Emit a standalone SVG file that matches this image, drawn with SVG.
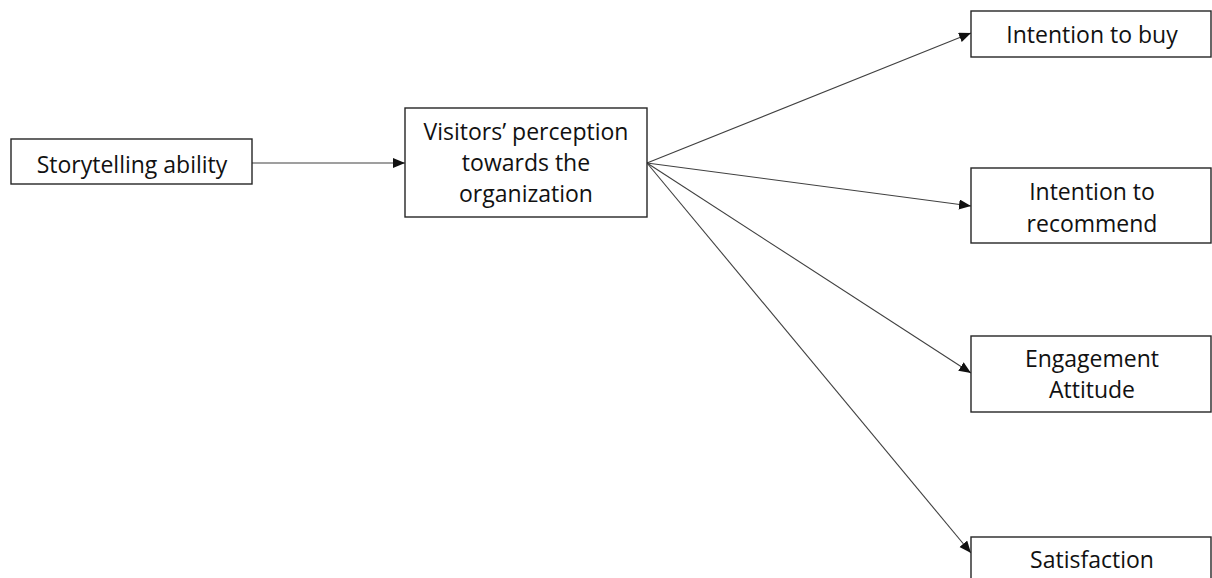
<svg xmlns="http://www.w3.org/2000/svg" width="1212" height="578" viewBox="0 0 1212 578">
  <style>
    .box { fill: #ffffff; stroke: #262626; stroke-width: 1.4; }
    .lbl { font-family: "Open Sans", "Liberation Sans", sans-serif; font-size: 23px; fill: #111111; text-anchor: middle; }
    .edge { stroke: #404040; stroke-width: 1.1; fill: none; marker-end: url(#arrow); }
  </style>
  <defs>
    <marker id="arrow" markerUnits="userSpaceOnUse" markerWidth="13" markerHeight="11" refX="12" refY="5" orient="auto">
      <path d="M0,0 L12,5 L0,10 Z" fill="#111111"/>
    </marker>
  </defs>
  <rect width="1212" height="578" fill="#ffffff"/>

  <g id="connectors">
    <line class="edge" x1="252" y1="163" x2="405" y2="163"/>
    <line class="edge" x1="647" y1="163" x2="971" y2="33"/>
    <line class="edge" x1="647" y1="163" x2="971" y2="206"/>
    <line class="edge" x1="647" y1="163" x2="971" y2="373"/>
    <line class="edge" x1="647" y1="163" x2="971" y2="553"/>
  </g>

  <g id="storytelling">
    <rect class="box" x="11" y="139" width="241" height="45"/>
    <text class="lbl" x="132" y="173">Storytelling ability</text>
  </g>

  <g id="perception">
    <rect class="box" x="405" y="108" width="242" height="109"/>
    <text class="lbl" x="526" y="140">Visitors’ perception</text>
    <text class="lbl" x="526" y="171">towards the</text>
    <text class="lbl" x="526" y="202">organization</text>
  </g>

  <g id="buy">
    <rect class="box" x="971" y="11" width="240" height="46"/>
    <text class="lbl" x="1092" y="43">Intention to buy</text>
  </g>

  <g id="recommend">
    <rect class="box" x="971" y="168" width="240" height="75"/>
    <text class="lbl" x="1092" y="200">Intention to</text>
    <text class="lbl" x="1092" y="232">recommend</text>
  </g>

  <g id="engagement">
    <rect class="box" x="971" y="336" width="240" height="76"/>
    <text class="lbl" x="1092" y="367">Engagement</text>
    <text class="lbl" x="1092" y="398">Attitude</text>
  </g>

  <g id="satisfaction">
    <rect class="box" x="971" y="537" width="240" height="60"/>
    <text class="lbl" x="1092" y="568">Satisfaction</text>
  </g>
</svg>
